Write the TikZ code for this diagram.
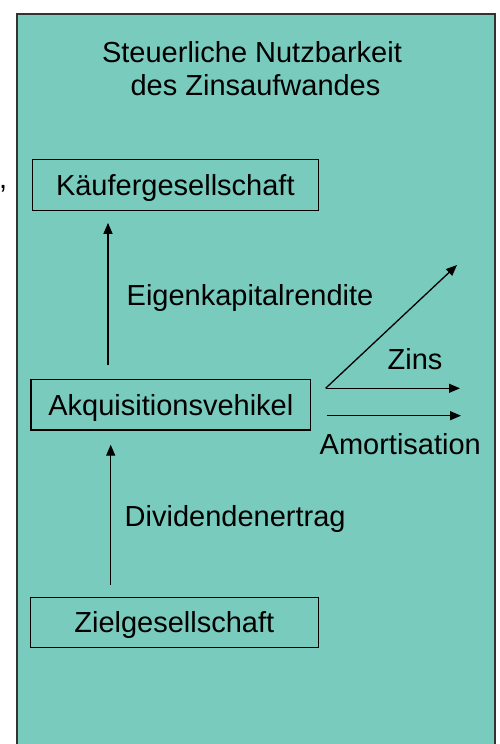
\documentclass[tikz,border=0pt]{standalone}
\usepackage{fontspec}
\setmainfont{Liberation Sans}
\usetikzlibrary{arrows.meta,calc}
\definecolor{panel}{RGB}{121,203,189}
\definecolor{frame}{RGB}{51,51,51}
\tikzset{
  lbl/.style={font=\fontsize{29}{33}\selectfont, inner sep=0pt, anchor=base west},
  entity/.style={draw=black, line width=1.3pt, inner sep=0pt, text height=21pt, text depth=0pt,
     font=\fontsize{29}{33}\selectfont},
  arr/.style={draw=black, line width=1.3pt, -{Triangle[length=11pt,width=9pt]}}
}
\begin{document}
\begin{tikzpicture}[x=1pt,y=-1pt]
\useasboundingbox (0,0) rectangle (500,744);
\fill[white] (0,0) rectangle (500,744);
\draw[fill=panel, draw=frame, line width=2pt] (17.3,14) rectangle (495,760);
\node[font=\fontsize{29}{33}\selectfont, inner sep=0pt, anchor=base] (title1) at (252,62) {Steuerliche Nutzbarkeit};
\node[font=\fontsize{29}{33}\selectfont, inner sep=0pt, anchor=base] (title2) at (255.5,95) {des Zinsaufwandes};
\node[lbl] (comma) at (-1,188) {,};
\node[entity, minimum width=286pt, minimum height=51pt] (kauf) at (175.3,184.7) {Käufergesellschaft};
\node[entity, minimum width=279.7pt, minimum height=50.7pt] (akq) at (170.8,404.7) {Akquisitionsvehikel};
\node[entity, minimum width=288pt, minimum height=50pt] (ziel) at (174.3,622.3) {Zielgesellschaft};
\node[lbl] (ekr) at (126.5,305) {Eigenkapitalrendite};
\node[lbl] (div) at (124.5,526.7) {Dividendenertrag};
\node[lbl] (zins) at (387.5,369.3) {Zins};
\node[lbl] (amort) at (319.5,454) {Amortisation};
% vertical flows
\draw[arr, shorten <=14pt, shorten >=12pt] ([xshift=-62.8pt]akq.north) -- ([xshift=-62.8pt]akq.north |- kauf.south);
\draw[arr, shorten <=11.6pt, shorten >=14pt] ([xshift=-63.6pt]ziel.north) -- ([xshift=-63.6pt]ziel.north |- akq.south);
% interest and amortisation
\coordinate (z0) at ([xshift=14.3pt,yshift=16.4pt]akq.east);
\coordinate (zd) at (457,265);
\coordinate (zh) at (460,388.3);
\coordinate (a0) at ([xshift=15.3pt,yshift=-11pt]akq.east);
\coordinate (a1) at (461,415.7);
\draw[arr] (z0) -- (zd);
\draw[arr] (z0) -- (zh);
\draw[arr] (a0) -- (a1);
\end{tikzpicture}
\end{document}
